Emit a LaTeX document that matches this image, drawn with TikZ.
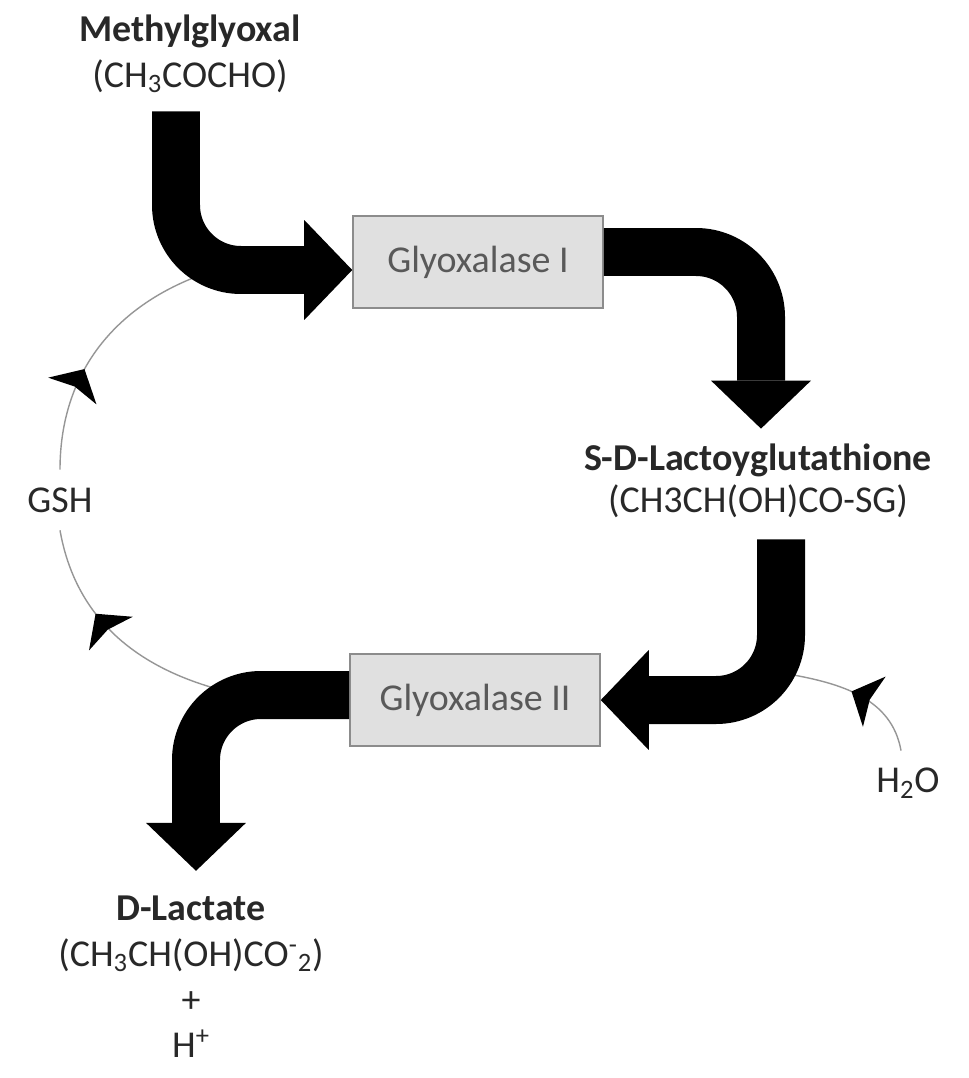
\documentclass[tikz,border=0pt]{standalone}
\usepackage{fontspec}
\setmainfont{Carlito}
\usepackage{tikz}
\usetikzlibrary{arrows.meta, calc, decorations.markings}
\definecolor{boxfill}{RGB}{224,224,224}
\definecolor{boxframe}{RGB}{140,140,140}
\definecolor{enztext}{RGB}{89,89,89}
\definecolor{chemtext}{RGB}{40,40,40}
\definecolor{cycleline}{RGB}{150,150,150}
\tikzset{
  enzyme/.style={rectangle, draw=boxframe, fill=boxfill, line width=0.9pt,
    minimum width=5cm, minimum height=1.85cm,
    font=\fontsize{21.6}{26}\selectfont, text=enztext},
  chem/.style={align=center, inner sep=0pt,
    font=\fontsize{21.6}{26}\selectfont, text=chemtext},
  flow/.style={line width=0.96cm, rounded corners=1.3cm,
    -{Triangle[length=0.96cm, width=2cm, line width=0pt]}},
  cofactor/.style={draw=cycleline, line width=0.8pt},
  midtip/.style={postaction={decorate}, decoration={markings,
    mark=at position #1 with {\arrow{Stealth[length=0.5cm, width=1.1cm, inset=0.1cm, color=black]}}}}
}
\begin{document}
\begin{tikzpicture}[x=0.02cm, y=0.02cm]
  \useasboundingbox (0,0) rectangle (969,-1078);

  % Metabolites
  \node[chem] (meth) at (190,-54) {\textbf{Methylglyoxal}\\(CH\textsubscript{3}COCHO)};
  \node[chem] (lact) at (758,-481) {\textbf{S-D-Lactoyglutathione}\\[-2pt](CH3CH(OH)CO-SG)};
  \node[chem] (dlac) at (191,-977) {\textbf{D-Lactate}\\(CH\textsubscript{3}CH(OH)CO\textsuperscript{-}\textsubscript{2})\\+\\H\textsuperscript{+}};

  % Enzymes
  \node[enzyme] (g1) at (478,-262) {Glyoxalase I};
  \node[enzyme] (g2) at (475,-700) {Glyoxalase II};

  % Cofactors
  \node[chem, inner sep=0.35cm] (gsh) at (60,-500) {GSH};
  \node[chem] (h2o) at (908,-783) {H\textsubscript{2}O};

  % Ends of the thin lines on the big arrows
  \coordinate (c1) at (193,-278);
  \coordinate (c3) at (788,-674);
  \coordinate (c4) at (221,-690);

  % GSH recycling
  \draw[cofactor, midtip=0.62] (c4) to[out=165, in=-80] (gsh.south);
  \draw[cofactor, midtip=0.42] (gsh.north) to[out=90, in=202] (c1);

  % Water uptake
  \draw[cofactor, midtip=0.55] ($(h2o.north)+(-7,17)$) to[out=100, in=-10] (c3);

  % Main pathway
  \draw[flow] ($(meth.south)+(-14,-18)$) |- ($(g1.west)+(0,-8)$);
  \draw[flow] ($(g1.east)+(0,10)$) -| ($(lact.north)+(3,15)$);
  \draw[flow] ($(lact.south)+(23,-21)$) |- (g2.east);
  \draw[flow] ($(g2.west)+(0,5)$) -| ($(dlac.north)+(5,25)$);
\end{tikzpicture}
\end{document}
